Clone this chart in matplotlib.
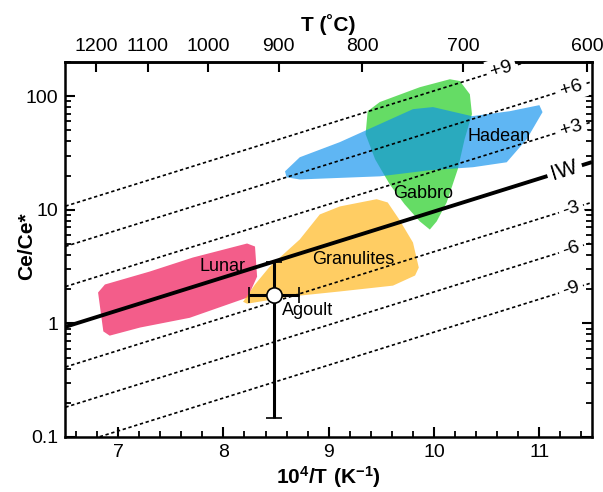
import numpy as np
import matplotlib
matplotlib.use('Agg')
import matplotlib.pyplot as plt
from matplotlib.patches import Polygon
from matplotlib.ticker import FixedLocator, MultipleLocator, LogLocator, NullFormatter

plt.rcParams['font.family'] = ['Liberation Sans', 'DejaVu Sans']
plt.rcParams['mathtext.fontset'] = 'custom'
plt.rcParams['mathtext.rm'] = 'Liberation Sans'
plt.rcParams['mathtext.bf'] = 'Liberation Sans:bold'

# redox buffer lines: log10(Ce/Ce*) = iw_b0 + iw_slope * (1e4/T) + iw_step * dIW
iw_b0 = -1.915
iw_slope = 0.29
iw_step = 0.118
iw_offsets = [9, 6, 3, 0, -3, -6, -9]
iw_names = ['+9', '+6', '+3', 'IW', '-3', '-6', '-9']
iw_label_x = [10.64, 11.3, 11.3, 11.24, 11.3, 11.3, 11.3]

# fields (x = 1e4/T, y = Ce/Ce*)
lunar_x = [6.81, 6.875, 7.30, 7.71, 8.225, 8.30, 8.32, 8.23, 7.68, 7.21, 6.92, 6.86]
lunar_y = [1.87, 2.20, 2.86, 3.80, 5.05, 4.75, 2.58, 1.69, 1.12, 0.92, 0.78, 0.85]

gran_x = [8.187, 8.30, 8.44, 8.725, 8.915, 9.105, 9.455, 9.56, 9.67, 9.80, 9.855, 9.82, 9.61, 9.105, 8.63, 8.225]
gran_y = [1.55, 2.2, 3.16, 5.48, 9.1, 10.7, 12.4, 11.6, 8.2, 5.15, 3.1, 2.64, 2.15, 1.91, 1.72, 1.49]

gabbro_x = [10.245, 10.34, 10.36, 10.29, 10.225, 10.12, 10.025, 9.96, 9.865, 9.72, 9.58, 9.44, 9.35, 9.37, 9.485, 9.865, 10.15]
gabbro_y = [136, 104, 69.5, 41.8, 22.7, 11.6, 7.9, 6.7, 7.9, 11.2, 16.7, 27.9, 46.3, 73.8, 88.8, 120, 141]

hadean_x = [8.585, 8.725, 9.105, 9.485, 9.80, 9.99, 10.36, 10.72, 11.0, 11.03, 10.88, 10.69, 10.37, 9.96, 9.485, 8.725, 8.60]
hadean_y = [21.8, 29, 39.4, 56.8, 76.9, 80.2, 66.7, 73.8, 83.4, 72.4, 41.8, 26.2, 23.7, 22.3, 19.7, 18.5, 19.3]

field_names = ['Lunar', 'Granulites', 'Gabbro', 'Hadean']
field_label_x = [7.99, 9.23, 9.9, 10.62]
field_label_y = [3.16, 3.65, 13.8, 44.5]

# Agoult sample
agoult_x = 8.48
agoult_y = 1.77
agoult_xerr = 0.235
agoult_ylo = 0.147
agoult_yhi = 3.44

fig = plt.figure(figsize=(6.03, 4.92), dpi=100)
ax = fig.add_subplot(111)
fig.subplots_adjust(left=0.1085, right=0.9818, bottom=0.1118, top=0.874)

ax.set_xlim(6.5, 11.5)
ax.set_yscale('log')
ax.set_ylim(0.1, 200)

a = 0.66
fields = [(lunar_x, lunar_y, '#ED094D'),
          (gran_x, gran_y, '#FFB313'),
          (gabbro_x, gabbro_y, '#16CB16'),
          (hadean_x, hadean_y, '#0C90ED')]
for fx, fy, col in fields:
    ax.add_patch(Polygon(np.column_stack([fx, fy]), closed=True, fc=col,
                         ec='none', alpha=a, zorder=1))

xs = np.linspace(6.5, 11.5, 200)
for off in iw_offsets:
    ys = 10 ** (iw_b0 + iw_slope * xs + iw_step * off)
    if off == 0:
        ax.plot(xs, ys, color='black', lw=2.8, zorder=3, solid_capstyle='butt')
    else:
        ax.plot(xs, ys, color='black', lw=1.2, ls=(0, (2, 1.6)), zorder=3)

# angle of the buffer lines on screen
p1 = ax.transData.transform((9, 10 ** (iw_b0 + iw_slope * 9)))
p2 = ax.transData.transform((10, 10 ** (iw_b0 + iw_slope * 10)))
ang = np.degrees(np.arctan2(p2[1] - p1[1], p2[0] - p1[0]))

for off, name, lx in zip(iw_offsets, iw_names, iw_label_x):
    ly = 10 ** (iw_b0 + iw_slope * lx + iw_step * off)
    ax.text(lx, ly, name, fontsize=14 if off != 0 else 16, rotation=ang,
            rotation_mode='anchor', ha='center', va='center', zorder=4,
            bbox=dict(boxstyle='square,pad=0.2', fc='white', ec='none'))

for name, tx, ty in zip(field_names, field_label_x, field_label_y):
    ax.text(tx, ty, name, fontsize=13, ha='center', va='center', zorder=6)

ax.errorbar(agoult_x, agoult_y, xerr=agoult_xerr,
            yerr=[[agoult_y - agoult_ylo], [agoult_yhi - agoult_y]],
            fmt='o', mfc='white', mec='black', mew=1.2, ms=11,
            ecolor='black', elinewidth=2.2, capsize=5.5, capthick=2.2, zorder=5)
ax.text(8.80, 1.29, 'Agoult', fontsize=13, ha='center', va='center', zorder=6)

# axes styling
for sp in ax.spines.values():
    sp.set_linewidth(1.8)
ax.xaxis.set_major_locator(FixedLocator([7, 8, 9, 10, 11]))
ax.xaxis.set_minor_locator(MultipleLocator(0.2))
ax.set_yticks([0.1, 1, 10, 100])
ax.set_yticklabels(['0.1', '1', '10', '100'])
ax.yaxis.set_minor_locator(LogLocator(base=10, subs=np.arange(2, 10)))
ax.yaxis.set_minor_formatter(NullFormatter())
ax.tick_params(which='both', direction='in', top=False, right=True,
               labelsize=14, pad=5)
ax.tick_params(which='major', length=7, width=1.5)
ax.tick_params(which='minor', length=4, width=1.3)

ax.set_xlabel(r'$\mathbf{10^{4}/T\ (K^{-1})}$', fontsize=15)
ax.xaxis.set_label_coords(0.5, -0.072)
ax.set_ylabel('Ce/Ce*', fontsize=15, fontweight='bold')
ax.yaxis.set_label_coords(-0.056, 0.51)

top = ax.secondary_xaxis('top', functions=(lambda x: 1e4 / x - 273.15,
                                           lambda t: 1e4 / (t + 273.15)))
top.set_xticks([600, 700, 800, 900, 1000, 1100, 1200])
top.set_xticklabels(['600', '700', '800', '900', '1000', '1100', '1200'])
top.tick_params(direction='in', length=7, width=1.5, labelsize=14, pad=5)
top.spines['top'].set_linewidth(1.8)
top.set_xlabel('T (˚C)', fontsize=15, fontweight='bold', labelpad=5)

fig.savefig('out.png', dpi=100)
